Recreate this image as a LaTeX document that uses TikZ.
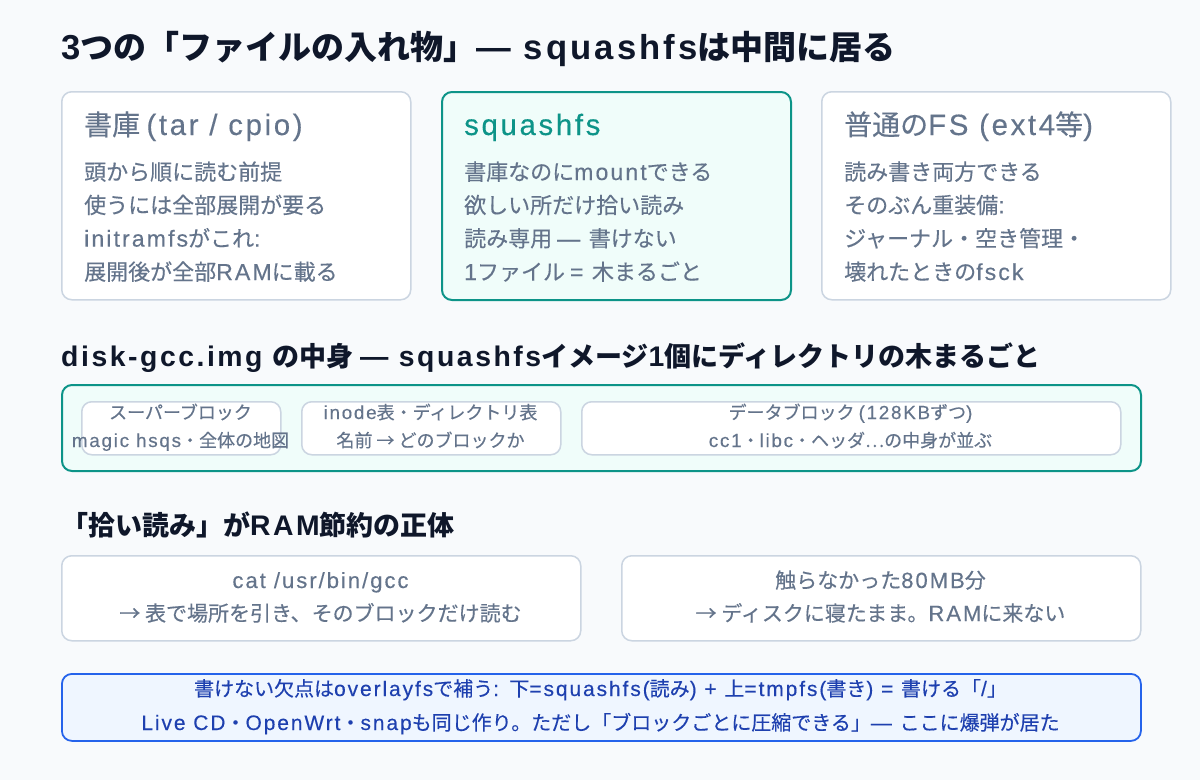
\documentclass[tikz,border=0pt]{standalone}
\usepackage{fontspec}
\setmainfont{Noto Sans CJK JP}[UprightFeatures={FakeBold=0.3}]
\newfontfamily\latinf{Liberation Sans}[Scale=1.05, LetterSpace=9, UprightFeatures={FakeBold=0.3}]
\newXeTeXintercharclass\cjkcls
\makeatletter
\count@="3000
\loop \XeTeXcharclass\count@=\cjkcls \advance\count@ by 1 \ifnum\count@<"3100 \repeat
\count@="4E00
\loop \XeTeXcharclass\count@=\cjkcls \advance\count@ by 1 \ifnum\count@<"A000 \repeat
\count@="FF00
\loop \XeTeXcharclass\count@=\cjkcls \advance\count@ by 1 \ifnum\count@<"FFF0 \repeat
\XeTeXcharclass"2192=\cjkcls
\XeTeXcharclass"2026=\cjkcls
\makeatother
\XeTeXinterchartoks 0 \cjkcls = {\rmfamily}
\XeTeXinterchartoks 4095 \cjkcls = {\rmfamily}
\XeTeXinterchartoks \cjkcls 0 = {\latinf}
\XeTeXinterchartoks 4095 0 = {\latinf}
\XeTeXinterchartokenstate=1
\definecolor{bgc}{HTML}{F8FAFC}
\definecolor{ink}{HTML}{0F172A}
\definecolor{graytext}{HTML}{64748B}
\definecolor{cardline}{HTML}{CBD5E1}
\definecolor{tealc}{HTML}{0D9488}
\definecolor{tealbg}{HTML}{F0FDFA}
\definecolor{bluec}{HTML}{2563EB}
\definecolor{bluebg}{HTML}{EFF6FF}
\definecolor{bluetext}{HTML}{1E40AF}
\newcommand\fsz[1]{\fontsize{#1pt}{#1pt}\selectfont}
\tikzset{
  card/.style={draw=cardline, line width=1.5pt, fill=white, rounded corners=10pt, anchor=north west, inner sep=0pt},
  tealcard/.style={draw=tealc, line width=2pt, fill=tealbg, rounded corners=10pt, anchor=north west, inner sep=0pt},
  bluecard/.style={draw=bluec, line width=1.8pt, fill=bluebg, rounded corners=10pt, anchor=north west, inner sep=0pt},
  htitle/.style={inner sep=0pt, anchor=base west, text=ink, font=\fsz{33}\bfseries},
  stitle/.style={inner sep=0pt, anchor=base west, text=ink, font=\fsz{27}\bfseries},
  ctitle/.style={inner sep=0pt, anchor=base west, text=graytext, font=\fsz{28}},
  body/.style={inner sep=0pt, anchor=base west, text=graytext, font=\fsz{22}},
  small/.style={inner sep=0pt, anchor=base, text=graytext, font=\fsz{18}},
  mid/.style={inner sep=0pt, anchor=base, text=graytext, font=\fsz{21}},
  note/.style={inner sep=0pt, anchor=base, text=bluetext, font=\fsz{20}},
}
\begin{document}
\begin{tikzpicture}[x=1pt,y=-1pt]
\useasboundingbox (0,0) rectangle (1200,780);
\fill[bgc] (0,0) rectangle (1200,780);

\node[htitle] (title) at (61,59) {3つの「ファイルの入れ物」— squashfsは中間に居る};

% row 1 cards
\node[card, minimum width=349pt, minimum height=208pt] (b1) at (61,91) {};
\node[tealcard, minimum width=349pt, minimum height=208pt] (b2) at (441,91) {};
\node[card, minimum width=349pt, minimum height=208pt] (b3) at (821,91) {};

\node[ctitle] (b1t) at (84,135) {書庫 (tar / cpio)};
\node[body] (b1a) at (84,180) {頭から順に読む前提};
\node[body] (b1b) at (84,213.3) {使うには全部展開が要る};
\node[body] (b1c) at (84,246.6) {initramfsがこれ:};
\node[body] (b1d) at (84,280) {展開後が全部RAMに載る};

\node[ctitle, text=tealc] (b2t) at (464,135) {squashfs};
\node[body] (b2a) at (464,180) {書庫なのにmountできる};
\node[body] (b2b) at (464,213.3) {欲しい所だけ拾い読み};
\node[body] (b2c) at (464,246.6) {読み専用 — 書けない};
\node[body] (b2d) at (464,280) {1ファイル = 木まるごと};

\node[ctitle] (b3t) at (844,135) {普通のFS (ext4等)};
\node[body] (b3a) at (844,180) {読み書き両方できる};
\node[body] (b3b) at (844,213.3) {そのぶん重装備:};
\node[body] (b3c) at (844,246.6) {ジャーナル・空き管理・};
\node[body] (b3d) at (844,280) {壊れたときのfsck};

% section 2
\node[stitle] (s2) at (61,366) {disk-gcc.img の中身 — squashfsイメージ1個にディレクトリの木まるごと};
\node[tealcard, minimum width=1079pt, minimum height=86pt] (img) at (61,384) {};
\node[card, minimum width=199pt, minimum height=53pt] (sb) at (81,401) {};
\node[card, minimum width=259pt, minimum height=53pt] (ino) at (301,401) {};
\node[card, minimum width=539pt, minimum height=53pt] (dat) at (581,401) {};
\node[small] (sba) at (180.5,419) {スーパーブロック};
\node[small] (sbb) at (180.5,447) {magic hsqs・全体の地図};
\node[small] (inoa) at (430.5,419) {inode表・ディレクトリ表};
\node[small] (inob) at (430.5,447) {名前 → どのブロックか};
\node[small] (data) at (850.5,419) {データブロック (128KBずつ)};
\node[small] (datb) at (850.5,447) {cc1・libc・ヘッダ…の中身が並ぶ};

% section 3
\node[stitle] (s3) at (61,535) {「拾い読み」がRAM節約の正体};
\node[card, minimum width=519pt, minimum height=85pt] (cat) at (61,555) {};
\node[card, minimum width=519pt, minimum height=85pt] (rest) at (621,555) {};
\node[mid] (cata) at (320.5,588) {cat /usr/bin/gcc};
\node[mid] (catb) at (320.5,621) {→ 表で場所を引き、そのブロックだけ読む};
\node[mid] (resta) at (880.5,588) {触らなかった80MB分};
\node[mid] (restb) at (880.5,621) {→ ディスクに寝たまま。RAMに来ない};

% note
\node[bluecard, minimum width=1079pt, minimum height=67pt] (nt) at (61,673) {};
\node[note] (nta) at (600.5,696) {書けない欠点はoverlayfsで補う: 下=squashfs(読み) + 上=tmpfs(書き) = 書ける「/」};
\node[note] (ntb) at (600.5,730) {Live CD・OpenWrt・snapも同じ作り。ただし「ブロックごとに圧縮できる」— ここに爆弾が居た};
\end{tikzpicture}
\end{document}
